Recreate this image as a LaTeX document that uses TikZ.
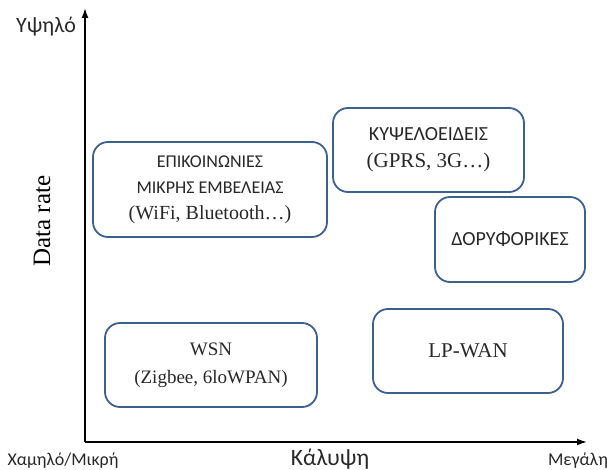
\documentclass[tikz,border=0pt]{standalone}
\usepackage{fontspec}
\setmainfont{Liberation Serif}
\newfontfamily\grsans{Carlito}
\usetikzlibrary{arrows.meta, positioning}
\definecolor{boxblue}{RGB}{62,96,140}
\definecolor{txtgray}{RGB}{40,40,40}
\newcommand{\grfont}[2]{\grsans\fontsize{#1}{#2}\selectfont}
\newcommand{\rmfont}[2]{\rmfamily\fontsize{#1}{#2}\selectfont}

\begin{document}
\begin{tikzpicture}[
		x=1pt, y=-1pt,
		b/.style={draw=boxblue, line width=1.8pt, rounded corners=15pt, align=center, fill=white, inner sep=2pt, text=txtgray},
		axis/.style={-{Latex[length=10pt,width=7pt]}, line width=1.6pt}
		]
		\useasboundingbox (0,0) rectangle (607,470);
		\coordinate (origin) at (85,442);
		\coordinate (ytop) at (85,8);
		\coordinate (xend) at (587,442);
		\draw[axis] (origin) -- (ytop);
		\draw[axis] (origin) -- (xend);
		
		\node[b, font=\rmfont{20}{26}, minimum width=234pt, minimum height=95pt] (shortrange) at (210,189.5) {\grfont{18}{26}ΕΠΙΚΟΙΝΩΝΙΕΣ\\ \grfont{18}{26}ΜΙΚΡΗΣ ΕΜΒΕΛΕΙΑΣ\\ (WiFi, Bluetooth…)};
		\node[b, font=\rmfont{21}{27}, minimum width=191pt, minimum height=84pt] (cell) at (428.5,150) {\grfont{20}{27}ΚΥΨΕΛΟΕΙΔΕΙΣ\\ (GPRS, 3G…)};
		\node[b, font=\grfont{20}{24}, minimum width=150pt, minimum height=85pt] (sat) at (510,239.5) {ΔΟΡΥΦΟΡΙΚΕΣ};
		\node[b, font=\rmfont{19}{28}, minimum width=212pt, minimum height=84pt] (wsn) at (211,365) {WSN\\ (Zigbee, 6loWPAN)};
		\node[b, font=\rmfont{21}{25}, minimum width=190pt, minimum height=84pt] (lpwan) at (468,351) {LP-WAN};
		
		\node[font=\grfont{22}{26}, text=txtgray] (high) at (46,27) {Υψηλό};
		\node[font=\rmfont{25}{28}, rotate=90] (rate) at (42,221) {Data rate};
		\node[font=\grfont{18}{22}, text=txtgray] (low) at (63,461) {Χαμηλό/Μικρή};
		\node[font=\grfont{23.5}{26}, text=txtgray] (cover) at (330,459) {Κάλυψη};
		\node[font=\grfont{18}{22}, text=txtgray] (big) at (578,461) {Μεγάλη};
	\end{tikzpicture}
\end{document}
